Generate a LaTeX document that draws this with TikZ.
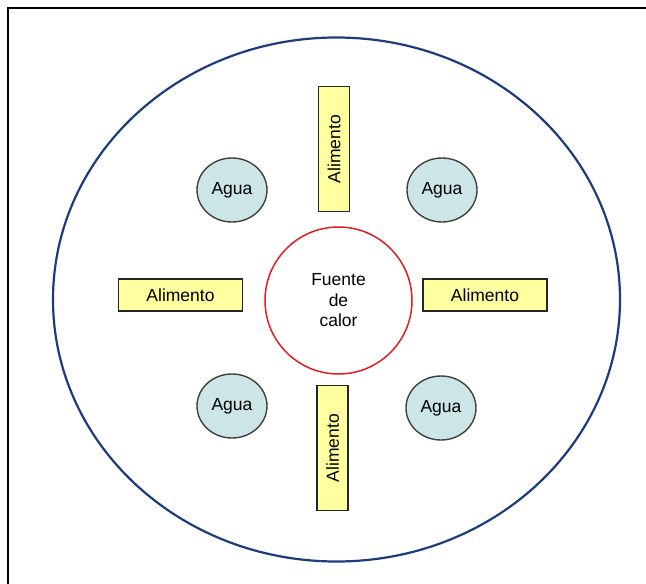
\documentclass[tikz,border=0pt]{standalone}
\usepackage{fontspec}
\setmainfont{Liberation Sans}
\usetikzlibrary{shapes.geometric}
\definecolor{outerblue}{RGB}{30,60,125}
\definecolor{heatred}{RGB}{225,30,35}
\definecolor{waterfill}{RGB}{204,230,232}
\definecolor{foodfill}{RGB}{255,255,160}
\begin{document}
\begin{tikzpicture}[x=1pt,y=-1pt,
  water/.style={ellipse,draw=black!75,line width=1.4pt,fill=waterfill,minimum width=70pt,minimum height=64pt,inner sep=0pt,font=\fontsize{17.5}{19}\selectfont},
  foodh/.style={rectangle,draw=black!85,line width=1.5pt,fill=foodfill,minimum width=124pt,minimum height=32pt,inner sep=0pt,font=\fontsize{17.5}{19}\selectfont},
  foodv/.style={foodh,minimum width=125pt,minimum height=31pt,rotate=90},
  heat/.style={circle,draw=heatred,line width=1.5pt,minimum size=147pt,inner sep=0pt,align=center,font=\fontsize{17.5}{20.5}\selectfont},
  frame/.style={draw=black,line width=1.8pt},
  outer/.style={draw=outerblue,line width=2.2pt}]
\useasboundingbox (0,0) rectangle (646,584);
\clip (0,0) rectangle (646,584);
\fill[white] (0,0) rectangle (646,584);
\draw[frame] (8,8) rectangle (660,600);
\draw[outer] (336.5,299.5) ellipse [x radius=283.5pt, y radius=262pt];
\node[heat] (heat) at (338.5,300.5) {Fuente\\de\\calor};
\node[water] (w1) at (232,190) {Agua};
\node[water] (w2) at (442,190) {Agua};
\node[water] (w3) at (232,406) {Agua};
\node[water] (w4) at (441,408) {Agua};
\node[foodv] (ftop) at (334,149) {Alimento};
\node[foodv] (fbot) at (332.5,448) {Alimento};
\node[foodh] (fleft) at (180.5,295) {Alimento};
\node[foodh] (fright) at (485,295) {Alimento};
\end{tikzpicture}
\end{document}
